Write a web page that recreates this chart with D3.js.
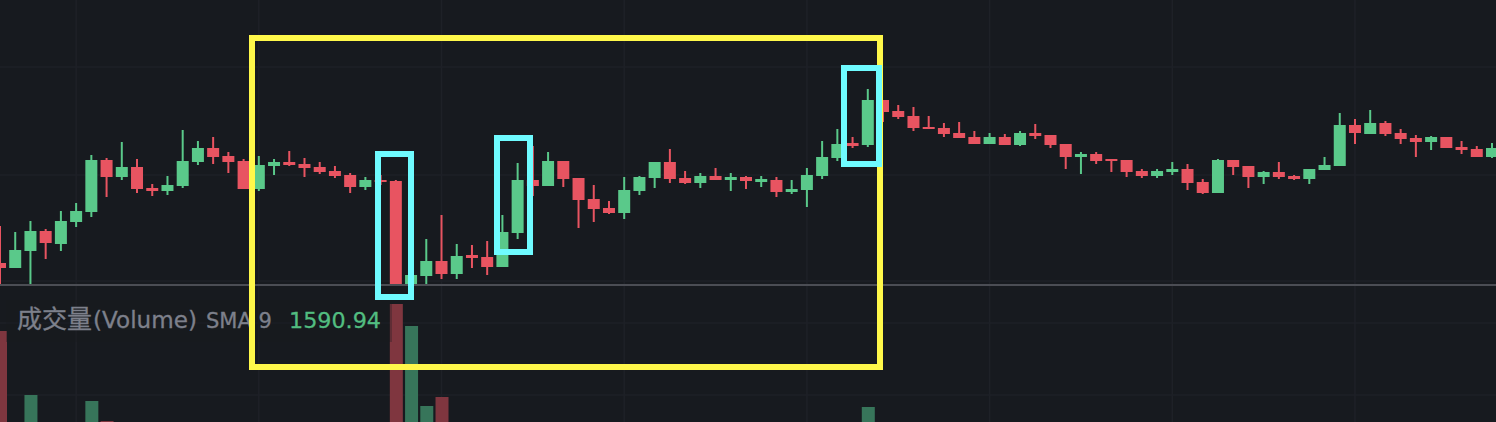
<!DOCTYPE html>
<html><head><meta charset="utf-8">
<script src="https://cdn.jsdelivr.net/npm/d3@7"></script>
<style>html,body{margin:0;padding:0;background:#171a1f;overflow:hidden}svg{display:block}</style>
</head><body><svg id="c" width="1496" height="422"></svg>
<script>
// price values, one per candle
const opens=[22,17,34,54,41,63,73,125,108,118,97,94,99,123,137,129,124,96,119,123,121,118,114,110,98,105,104,1,9,24,11,30,28,18,52,105,99,124,107,86,77,72,94,107,123,107,102,109,105,108,103,105,93,95,109,127,142,140,185,174,169,158,157,152,148,141,148,140,152,150,141,128,131,126,125,114,109,113,116,103,92,125,119,108,113,109,106,115,119,160,151,162,152,147,143,148,138,136,128];
const closes=[17,35,54,42,64,74,125,108,118,96,94,100,124,137,128,123,96,120,123,120,117,113,109,98,105,103,1,10,24,11,29,27,18,53,105,99,124,106,85,76,72,95,108,123,106,102,109,105,108,104,106,93,96,110,128,141,139,185,173,168,157,156,151,147,141,148,140,152,149,140,128,131,124,124,113,109,114,116,102,92,125,118,108,113,108,106,116,120,160,152,162,151,146,143,148,137,135,128,137];
const highs=[59,53,64,56,74,82,130,127,143,126,101,109,155,144,148,133,126,129,126,134,127,123,119,112,108,110,105,10,46,70,41,40,44,70,122,139,133,124,107,100,84,108,109,123,136,114,112,117,112,109,109,108,105,117,144,156,148,196,185,180,178,169,162,163,154,152,151,154,161,150,141,133,133,126,125,116,116,123,121,106,126,125,119,114,123,110,116,128,172,166,175,164,156,150,149,148,144,139,142];
const lows=[1,17,1,26,34,58,68,88,105,92,89,90,97,120,121,112,96,94,110,119,108,111,107,92,95,100,1,1,1,6,6,17,10,18,46,89,99,98,57,63,71,66,90,97,102,101,97,105,94,96,98,88,91,78,106,124,137,138,163,166,154,156,148,147,141,141,140,139,146,137,116,111,121,113,108,107,107,110,95,91,92,110,97,101,106,105,101,115,119,141,151,149,141,128,135,137,131,128,127];
const volumeIndex=[0,2,6,7,26,27,28,29,57];
const volumeValues=[3960,1400,1160,360,5040,4160,960,1320,920];
const gridColumns=[5,17,29,41,53,65,77,89];
const gridPrices=[218,110,4];
const gridVolumes=[4280,1400];
const legendCjk="成交量";
const legendLatin="(Volume)";
const legendSma="SMA 9";
const legendValue="1590.94";
const boxYellow=[[249,35,883,370]];
const boxCyan=[[375,151,414,300],[494,135,533,255],[841,65,882,167]];

const UP="#5ac98a",DOWN="#e85461",UPV="#37755a",DOWNV="#7f363f",BG="#171a1f";
const svg=d3.select("#c");
const candles=opens.map((o,i)=>({i,o,c:closes[i],h:highs[i],l:lows[i]}));
const x=d3.scaleLinear().domain([0,98]).range([0,1492]);
const yP=d3.scaleLinear().domain([0,285]).range([285,0]);
const yV=d3.scaleLinear().domain([0,5040]).range([430,304]);
svg.append("rect").attr("width",1496).attr("height",422).attr("fill",BG);
const grid=svg.append("g").attr("stroke","#1e2127").attr("stroke-width",1.5);
grid.selectAll(".v").data(gridColumns).join("line").attr("x1",d=>x(d)).attr("x2",d=>x(d)).attr("y1",0).attr("y2",422);
grid.selectAll(".p").data(gridPrices).join("line").attr("x1",0).attr("x2",1496).attr("y1",d=>yP(d)).attr("y2",d=>yP(d));
grid.selectAll(".q").data(gridVolumes).join("line").attr("x1",0).attr("x2",1496).attr("y1",d=>yV(d)).attr("y2",d=>yV(d));
// volume
svg.append("g").selectAll("rect").data(volumeIndex).join("rect")
 .attr("x",d=>x(d)-6).attr("width",13)
 .attr("y",(d,k)=>yV(volumeValues[k])).attr("height",(d,k)=>yV(0)-yV(volumeValues[k]))
 .attr("fill",d=>candles[d].c>=candles[d].o?UPV:DOWNV);
// candles
svg.append("clipPath").attr("id","pane").append("rect").attr("width",1496).attr("height",284);
const gc=svg.append("g").attr("clip-path","url(#pane)");
gc.selectAll("line").data(candles).join("line")
 .attr("x1",d=>x(d.i)).attr("x2",d=>x(d.i)).attr("y1",d=>yP(d.h)).attr("y2",d=>yP(d.l))
 .attr("stroke",d=>d.c>=d.o?UP:DOWN).attr("stroke-width",2);
gc.selectAll("rect").data(candles).join("rect")
 .attr("x",d=>x(d.i)-6).attr("width",12)
 .attr("y",d=>yP(Math.max(d.o,d.c))).attr("height",d=>Math.abs(yP(d.o)-yP(d.c)))
 .attr("fill",d=>d.c>=d.o?UP:DOWN);
svg.append("rect").attr("x",0).attr("y",284).attr("width",1496).attr("height",2).attr("fill","#4b4d54");
// legend
svg.append("rect").attr("x",6).attr("y",300).attr("width",386).attr("height",42).attr("fill",BG).attr("opacity",0.3);
const label=(px,txt,fill,fam,size,len)=>{const t=svg.append("text").attr("x",px).attr("y",327.5).attr("fill",fill).attr("stroke",fill).attr("stroke-width",0.3).attr("font-family",fam).attr("font-size",size).text(txt);
 if(len)t.attr("textLength",len).attr("lengthAdjust","spacingAndGlyphs");};
label(17,legendCjk,"#7d808b","'Noto Sans CJK SC',sans-serif",25);
label(93,legendLatin,"#7d808b","'DejaVu Sans',sans-serif",22.7,104);
label(206,legendSma,"#7d808b","'DejaVu Sans',sans-serif",21.5,66);
label(289,legendValue,"#52bd80","'DejaVu Sans',sans-serif",22,92);
// annotation boxes
const box=(g,data,color)=>g.selectAll("rect").data(data).join("rect")
 .attr("x",d=>d[0]+3).attr("y",d=>d[1]+3).attr("width",d=>d[2]-d[0]-6).attr("height",d=>d[3]-d[1]-6)
 .attr("fill","none").attr("stroke",color).attr("stroke-width",6);
box(svg.append("g"),boxYellow,"#fff84a");
box(svg.append("g"),boxCyan,"#6ffbff");
</script></body></html>
